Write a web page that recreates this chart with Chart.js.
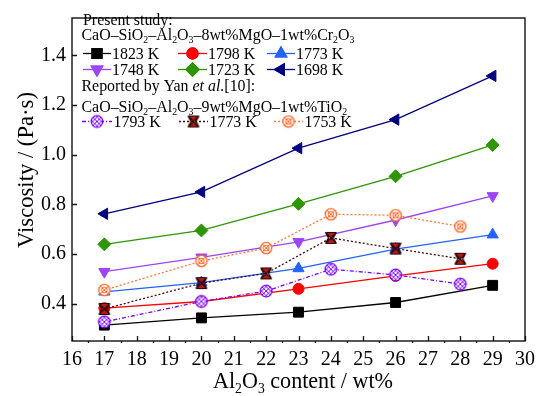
<!DOCTYPE html>
<html><head><meta charset="utf-8">
<script src="https://cdn.jsdelivr.net/npm/chart.js@4/dist/chart.umd.min.js"></script>
<style>html,body{margin:0;padding:0;background:#fff}#wrap{width:543px;height:396px;position:relative}</style>
</head><body><div id="wrap"><canvas id="c" width="543" height="396"></canvas></div>
<script>
// ---- data ----
const xPresent = [17, 20, 23, 26, 29];
const v1823 = [0.314, 0.343, 0.366, 0.405, 0.474];
const v1798 = [0.382, 0.409, 0.460, 0.512, 0.561];
const v1773 = [0.448, 0.485, 0.542, 0.620, 0.678];
const v1748 = [0.529, 0.587, 0.649, 0.737, 0.834];
const v1723 = [0.639, 0.695, 0.802, 0.913, 1.039];
const v1698 = [0.762, 0.850, 1.026, 1.141, 1.317];
const xYan = [17, 20, 22, 24, 26, 28];
const yan1793 = [0.327, 0.409, 0.451, 0.539, 0.516, 0.479];
const yan1773 = [0.379, 0.483, 0.522, 0.665, 0.622, 0.581];
const yan1753 = [0.455, 0.572, 0.624, 0.760, 0.756, 0.711];
const yTicks = [0.4, 0.6, 0.8, 1.0, 1.2, 1.4];
const xTicks = [16, 17, 18, 19, 20, 21, 22, 23, 24, 25, 26, 27, 28, 29, 30];
const xMinor = [16.5, 17.5, 18.5, 19.5, 20.5, 21.5, 22.5, 23.5, 24.5, 25.5, 26.5, 27.5, 28.5, 29.5];

const FONT = '"Liberation Serif", "Times New Roman", serif';
Chart.defaults.font.family = FONT;

function pts(xs, ys) { return xs.map((x, i) => ({x: x, y: ys[i]})); }

// ---- custom marker images ----
function mk(drawFn) {
  const c = document.createElement('canvas');
  c.width = 16; c.height = 16;
  const g = c.getContext('2d');
  g.translate(8, 8);
  drawFn(g);
  return c;
}
const m1793 = mk(g => {
  const col = '#7a00ff';
  g.beginPath(); g.arc(0, 0, 5.8, 0, Math.PI * 2); g.fillStyle = '#fff'; g.fill();
  g.save(); g.beginPath(); g.arc(0, 0, 5.8, 0, Math.PI * 2); g.clip();
  g.strokeStyle = col; g.lineWidth = 1;
  for (let o = -9; o <= 9; o += 4.5) {
    g.beginPath(); g.moveTo(-8, -8 + o); g.lineTo(8, 8 + o); g.stroke();
    g.beginPath(); g.moveTo(-8, 8 + o); g.lineTo(8, -8 + o); g.stroke();
  }
  g.restore();
  g.beginPath(); g.arc(0, 0, 5.8, 0, Math.PI * 2); g.strokeStyle = col; g.lineWidth = 1.3; g.stroke();
});
const m1773 = mk(g => {
  g.beginPath();
  g.moveTo(-5.5, -5.5); g.lineTo(5.5, -5.5); g.lineTo(0, 0); g.closePath();
  g.moveTo(-5.5, 5.5); g.lineTo(5.5, 5.5); g.lineTo(0, 0); g.closePath();
  g.fillStyle = '#b01c1c'; g.fill();
  g.strokeStyle = '#2a0000'; g.lineWidth = 1.2;
  g.beginPath();
  g.moveTo(-5.5, -5.5); g.lineTo(5.5, -5.5);
  g.moveTo(-5.5, 5.5); g.lineTo(5.5, 5.5);
  g.moveTo(-5.5, -5.5); g.lineTo(5.5, 5.5); g.moveTo(5.5, -5.5); g.lineTo(-5.5, 5.5);
  g.moveTo(-5.5, -5.5); g.lineTo(-2.5, 0); g.lineTo(-5.5, 5.5);
  g.moveTo(5.5, -5.5); g.lineTo(2.5, 0); g.lineTo(5.5, 5.5);
  g.stroke();
});
const m1753 = mk(g => {
  const col = '#ff6a2a';
  g.beginPath(); g.arc(0, 0, 5.6, 0, Math.PI * 2); g.fillStyle = '#fff'; g.fill();
  g.strokeStyle = col; g.lineWidth = 1.4; g.stroke();
  g.beginPath(); g.arc(0, 0, 2.8, 0, Math.PI * 2); g.lineWidth = 1; g.stroke();
  g.beginPath(); g.moveTo(-4, -4); g.lineTo(4, 4); g.moveTo(4, -4); g.lineTo(-4, 4); g.stroke();
});

const series = [
  {label: '1823 K', xs: xPresent, ys: v1823, color: '#000000', style: 'rect', r: 7, rot: 0, dash: [], order: 5},
  {label: '1798 K', xs: xPresent, ys: v1798, color: '#ff0000', style: 'circle', r: 5.5, rot: 0, dash: [], order: 5},
  {label: '1773 K', xs: xPresent, ys: v1773, color: '#2463ff', style: 'triangle', r: 6.5, rot: 0, dash: [], order: 5},
  {label: '1748 K', xs: xPresent, ys: v1748, color: '#9d45f5', style: 'triangle', r: 6.5, rot: 180, dash: [], order: 5},
  {label: '1723 K', xs: xPresent, ys: v1723, color: '#2e9605', style: 'rectRot', r: 6.5, rot: 0, dash: [], order: 5},
  {label: '1698 K', xs: xPresent, ys: v1698, color: '#00007f', style: 'triangle', r: 6.5, rot: -90, dash: [], order: 5},
  {label: '1793 K', xs: xYan, ys: yan1793, color: '#7a00ff', style: m1793, r: 6, rot: 0, dash: [4, 2, 1, 2], order: 1},
  {label: '1773 K', xs: xYan, ys: yan1773, color: '#4a0a0a', style: m1773, r: 6, rot: 0, dash: [2, 2], order: 1},
  {label: '1753 K', xs: xYan, ys: yan1753, color: '#ff7733', style: m1753, r: 6, rot: 0, dash: [2, 2], order: 1}
];

const datasets = series.map(s => ({
  label: s.label,
  data: pts(s.xs, s.ys),
  borderColor: s.color,
  backgroundColor: s.color,
  borderWidth: 1.3,
  borderDash: s.dash,
  pointStyle: s.style,
  pointRadius: s.r,
  pointRotation: s.rot,
  pointBorderWidth: 1,
  pointBackgroundColor: s.color,
  pointBorderColor: s.color,
  order: s.order,
  tension: 0,
  fill: false
}));

// rich text with subscripts / italics
function fontFor(p, size) {
  const t = p[1] || 'n';
  if (t === 's') return (size * 0.62).toFixed(2) + 'px ' + FONT;
  if (t === 'i') return 'italic ' + size.toFixed(2) + 'px ' + FONT;
  return size.toFixed(2) + 'px ' + FONT;
}
function richWidth(ctx, parts, size) {
  let w = 0;
  for (const p of parts) { ctx.font = fontFor(p, size); w += ctx.measureText(p[0]).width; }
  return w;
}
function fitSize(ctx, parts, target) {
  return 20 * target / richWidth(ctx, parts, 20);
}
function drawRich(ctx, parts, x, y, size, align) {
  ctx.textBaseline = 'alphabetic';
  ctx.textAlign = 'left';
  let cx = x;
  if (align === 'center') cx = x - richWidth(ctx, parts, size) / 2;
  for (const p of parts) {
    ctx.font = fontFor(p, size);
    const dy = (p[1] === 's') ? size * 0.22 : 0;
    ctx.fillText(p[0], cx, y + dy);
    cx += ctx.measureText(p[0]).width;
  }
}
function drawMarker(ctx, s, x, y) {
  Chart.helpers.drawPoint(ctx, {pointStyle: s.style, radius: s.r, rotation: s.rot, borderWidth: 1}, x, y);
  ctx.fill();
  ctx.stroke();
}

const TXT_X = [['Al'], ['2', 's'], ['O'], ['3', 's'], [' content / wt%']];
const TXT_Y = [['Viscosity / (Pa·s)']];
const TXT_P1 = [['Present study:']];
const TXT_P2 = [['CaO–SiO'], ['2', 's'], ['–Al'], ['2', 's'], ['O'], ['3', 's'], ['–8wt%MgO–1wt%Cr'], ['2', 's'], ['O'], ['3', 's']];
const TXT_R1 = [['Reported by Yan '], ['et al.', 'i'], ['[10]:']];
const TXT_R2 = [['CaO–SiO'], ['2', 's'], ['–Al'], ['2', 's'], ['O'], ['3', 's'], ['–9wt%MgO–1wt%TiO'], ['2', 's']];

const decor = {
  id: 'decor',
  afterDraw(chart) {
    const ctx = chart.ctx;
    const ca = chart.chartArea;
    const xs = chart.scales.x, ys = chart.scales.y;
    ctx.save();
    // frame
    ctx.strokeStyle = '#111';
    ctx.lineWidth = 1.4;
    ctx.strokeRect(ca.left, ca.top, ca.right - ca.left, ca.bottom - ca.top);
    // ticks (inward major, outward minor on x)
    ctx.lineWidth = 1.3;
    ctx.beginPath();
    for (const v of xTicks) {
      const px = Math.round(xs.getPixelForValue(v)) + 0.5;
      ctx.moveTo(px, ca.bottom); ctx.lineTo(px, ca.bottom - 5);
    }
    for (const v of xMinor) {
      const px = Math.round(xs.getPixelForValue(v)) + 0.5;
      ctx.moveTo(px, ca.bottom); ctx.lineTo(px, ca.bottom + 2);
    }
    for (const v of yTicks) {
      const py = Math.round(ys.getPixelForValue(v)) + 0.5;
      ctx.moveTo(ca.left, py); ctx.lineTo(ca.left + 5, py);
    }
    ctx.stroke();

    // axis titles
    ctx.fillStyle = '#000';
    const sx = fitSize(ctx, TXT_X, 180);
    drawRich(ctx, TXT_X, 303, 388, sx, 'center');
    const sy = fitSize(ctx, TXT_Y, 156);
    ctx.save();
    ctx.translate(33, 170);
    ctx.rotate(-Math.PI / 2);
    drawRich(ctx, TXT_Y, 0, 0, sy, 'center');
    ctx.restore();

    // legend
    const LS = fitSize(ctx, TXT_P2, 273);
    ctx.fillStyle = '#000';
    drawRich(ctx, TXT_P1, 83, 25, LS);
    drawRich(ctx, TXT_P2, 81.5, 39.5, LS);
    drawRich(ctx, TXT_R1, 81.5, 91, LS);
    drawRich(ctx, TXT_R2, 81.5, 111.5, LS);

    const cols = [[83, 111], [178, 207], [267, 295]];
    const rows = [53, 69];
    for (let i = 0; i < 6; i++) {
      const s = series[i];
      const [x0, x1] = cols[i % 3];
      const y = rows[Math.floor(i / 3)];
      ctx.strokeStyle = s.color; ctx.fillStyle = s.color; ctx.lineWidth = 1.3; ctx.setLineDash([]);
      ctx.beginPath(); ctx.moveTo(x0, y + 0.5); ctx.lineTo(x1, y + 0.5); ctx.stroke();
      drawMarker(ctx, s, (x0 + x1) / 2, y + 0.5);
      ctx.fillStyle = '#000';
      drawRich(ctx, [[s.label]], x1 + 1, y + 6, LS);
    }
    const ycols = [[82, 112], [179, 208], [274, 303]];
    for (let i = 6; i < 9; i++) {
      const s = series[i];
      const [x0, x1] = ycols[i - 6];
      const y = 121.5;
      ctx.strokeStyle = s.color; ctx.lineWidth = 1.3; ctx.setLineDash(s.dash);
      ctx.beginPath(); ctx.moveTo(x0, y); ctx.lineTo(x1, y); ctx.stroke();
      ctx.setLineDash([]);
      ctx.drawImage(s.style, (x0 + x1) / 2 - 8, y - 8);
      ctx.fillStyle = '#000';
      drawRich(ctx, [[s.label]], x1 + 1.5, y + 5.5, LS);
    }
    ctx.restore();
  }
};

new Chart(document.getElementById('c'), {
  type: 'line',
  data: {datasets: datasets},
  options: {
    responsive: false,
    animation: false,
    devicePixelRatio: 1,
    layout: {padding: {left: 0, right: 18, top: 10, bottom: 0}},
    plugins: {legend: {display: false}, tooltip: {enabled: false}},
    scales: {
      x: {
        type: 'linear', min: 16, max: 30,
        afterBuildTicks: sc => { sc.ticks = xTicks.map(v => ({value: v})); },
        afterFit: sc => { sc.height = 55; },
        grid: {display: false, drawTicks: false},
        border: {display: false},
        ticks: {color: '#000', font: {family: FONT, size: 20}, padding: 7, maxRotation: 0, autoSkip: false}
      },
      y: {
        type: 'linear', min: 0.25, max: 1.55,
        afterBuildTicks: sc => { sc.ticks = yTicks.map(v => ({value: v})); },
        afterFit: sc => { sc.width = 72; },
        grid: {display: false, drawTicks: false},
        border: {display: false},
        ticks: {color: '#000', font: {family: FONT, size: 20}, padding: 6, callback: v => v.toFixed(1)}
      }
    }
  },
  plugins: [decor]
});
</script>
</body></html>
